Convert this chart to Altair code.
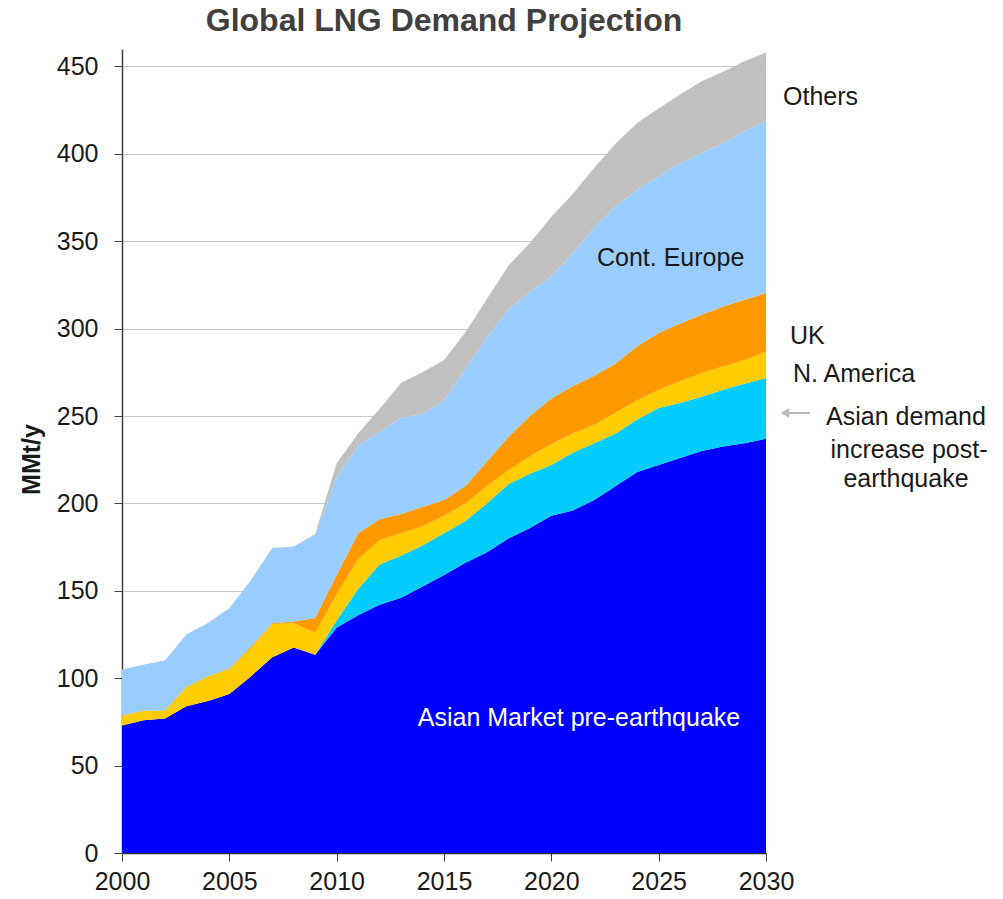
import altair as alt
import pandas as pd

years = list(range(2000, 2031))

series_names = [
    "Asian Market pre-earthquake",
    "Asian demand increase post-earthquake",
    "N. America",
    "UK",
    "Cont. Europe",
    "Others",
]

asia_pre = [73, 76, 77, 84, 87, 91, 101, 112, 117.6, 113.4, 129, 136, 142, 146, 152.5,
            159, 166, 172, 180, 186, 193, 196, 202, 210, 218, 222, 226, 230, 232.6, 234.5, 237]
asia_post = [0, 0, 0, 0, 0, 0, 0, 0, 0, 0, 4, 15, 23, 24, 23.5,
             24, 24, 28, 31, 31, 29, 33, 32.5, 30, 30, 32.6, 31.4, 31, 32.4, 34, 34.7]
n_america = [5.5, 5.5, 4.6, 11, 14, 14, 16, 19, 13.9, 12.6, 15, 17, 14, 13, 11,
             10, 10, 10, 8, 10, 12, 11, 10.5, 12, 11, 10.4, 12.6, 13.6, 13.4, 13.5, 15.3]
uk = [0, 0, 0, 0, 0, 0.5, 1, 0.5, 1, 8.5, 11, 15, 12, 11, 11,
      9, 10, 14, 19, 23, 26, 27, 28, 28, 31, 32.5, 33, 33.4, 34.3, 34.5, 33.4]
cont_europe = [26.5, 26.2, 28.6, 30, 30.6, 34.5, 38, 43, 42.9, 47.5, 56, 50, 50, 55, 53,
               57, 67, 71, 73, 71, 70, 76, 85, 90, 89.5, 89.5, 91.7, 92.5, 93.3, 96.5, 98.6]
others = [0, 0, 0, 0, 0, 0, 0, 0, 0, 0.5, 8, 7, 13, 20, 24,
          23, 21, 22, 25, 28, 34, 34, 34, 36, 38.1, 39, 39.3, 41, 41, 40, 39]

colors = ["#0000FF", "#00CCFF", "#FFCC00", "#FF9900", "#99CCFF", "#C0C0C0"]

x_ticks = [2000, 2005, 2010, 2015, 2020, 2025, 2030]
y_ticks = [0, 50, 100, 150, 200, 250, 300, 350, 400, 450]

title_text = "Global LNG Demand Projection"
y_title = "MMt/y"

all_series = [asia_pre, asia_post, n_america, uk, cont_europe, others]
rows = []
for rank, (name, vals) in enumerate(zip(series_names, all_series)):
    for yr, v in zip(years, vals):
        rows.append({"year": yr, "series": name, "value": v, "rank": rank})
df = pd.DataFrame(rows)

FONT = "Liberation Sans"

areas = alt.Chart(df).mark_area(interpolate="linear").encode(
    x=alt.X(
        "year:Q",
        scale=alt.Scale(domain=[2000, 2030], nice=False, zero=False),
        axis=alt.Axis(
            values=x_ticks, format="d", title=None, grid=False, labelFlush=False,
            tickSize=8, tickColor="#404040", domainColor="#333333", domainWidth=1.5,
            labelFontSize=25, labelColor="#1a1a1a", labelFont=FONT, labelPadding=8,
        ),
    ),
    y=alt.Y(
        "value:Q", stack="zero",
        scale=alt.Scale(domain=[0, 460], nice=False),
        axis=alt.Axis(
            values=y_ticks, title=y_title, grid=True, gridColor="#C8C8C8", gridWidth=1,
            labelFlush=False,
            tickSize=8, tickColor="#404040", domainColor="#404040", domainWidth=1.5,
            labelFontSize=25, labelColor="#1a1a1a", labelFont=FONT, labelPadding=16,
            titleFont=FONT, titleFontSize=25, titleFontWeight="bold", titleColor="#1a1a1a",
            titleAngle=270, titleX=-83, titleY=410, titleAlign="center",
            titleBaseline="alphabetic",
        ),
    ),
    color=alt.Color("series:N", scale=alt.Scale(domain=series_names, range=colors), legend=None),
    order=alt.Order("rank:Q", sort="ascending"),
)

one = pd.DataFrame({"a": [0]})


def label(text, x, y, align="left", color="#1a1a1a", size=25, weight="normal",
          baseline="middle"):
    return alt.Chart(one).mark_text(
        text=text, align=align, baseline=baseline, font=FONT, fontSize=size,
        color=color, fontWeight=weight,
    ).encode(x=alt.value(x), y=alt.value(y))


title = label(title_text, 322, -18, align="center", color="#404040", size=32,
              weight="bold", baseline="alphabetic")

arrow_line = alt.Chart(one).mark_rule(color="#B8B8B8", strokeWidth=2).encode(
    x=alt.value(664), x2=alt.value(688), y=alt.value(364)
)
arrow_head = alt.Chart(one).mark_point(
    shape="triangle-left", filled=True, color="#B8B8B8", opacity=1, size=90
).encode(x=alt.value(663), y=alt.value(364))

labels = [
    label("Others", 661, 48),
    label("Cont. Europe", 475, 209),
    label("UK", 668, 287),
    label("N. America", 671, 325),
    label("Asian demand", 784, 368, align="center"),
    label("increase post-", 787, 401, align="center"),
    label("earthquake", 784, 430, align="center"),
    label("Asian Market pre-earthquake", 457, 669, align="center", color="#FFFFFF"),
]

chart = alt.layer(areas, arrow_line, arrow_head, title, *labels).properties(
    width=644,
    height=804,
    autosize=alt.AutoSizeParams(type="none"),
    padding={"left": 122, "top": 49, "right": 237, "bottom": 46},
).configure_view(stroke=None)

chart.save("out.html", embed_options={"renderer": "svg", "actions": False})
